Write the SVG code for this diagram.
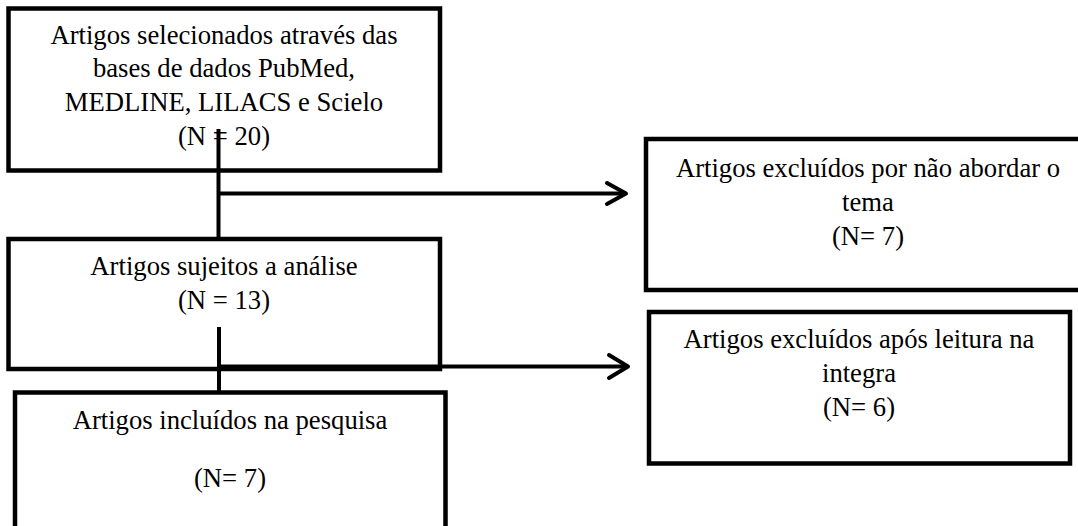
<svg xmlns="http://www.w3.org/2000/svg" width="1078" height="526" viewBox="0 0 1078 526">
<style>
.box{fill:#fff;stroke:#000;stroke-width:4.5}
.t{font-family:"Liberation Serif","Times New Roman",serif;font-size:26.67px;fill:#000;text-anchor:middle}
.ln{fill:none;stroke:#000;stroke-width:4}
.hd{fill:none;stroke:#000;stroke-width:4;stroke-linecap:round;stroke-linejoin:round}
</style>
<rect x="0" y="0" width="1078" height="526" fill="#fff"/>
<g id="n1">
<rect class="box" x="8.5" y="8.5" width="431.5" height="162"/>
<text class="t" x="224" y="43.5">Artigos selecionados através das</text>
<text class="t" x="224" y="77.3">bases de dados PubMed,</text>
<text class="t" x="224" y="111.2">MEDLINE, LILACS e Scielo</text>
<text class="t" x="224" y="145">(N = 20)</text>
</g>
<g id="n2">
<rect class="box" x="8.5" y="239" width="431.5" height="130"/>
<text class="t" x="224" y="275">Artigos sujeitos a análise</text>
<text class="t" x="224" y="309">(N = 13)</text>
</g>
<g id="n3">
<rect class="box" x="15" y="392.5" width="430.5" height="160"/>
<text class="t" x="230" y="429">Artigos incluídos na pesquisa</text>
<text class="t" x="230" y="487">(N= 7)</text>
</g>
<g id="n4">
<rect class="box" x="646" y="139" width="444" height="151"/>
<text class="t" x="868" y="177">Artigos excluídos por não abordar o</text>
<text class="t" x="868" y="211">tema</text>
<text class="t" x="868" y="245">(N= 7)</text>
</g>
<g id="n5">
<rect class="box" x="649" y="312" width="421" height="151.5"/>
<text class="t" x="859" y="348">Artigos excluídos após leitura na</text>
<text class="t" x="859" y="382">integra</text>
<text class="t" x="859" y="416">(N= 6)</text>
</g>
<g id="connectors">
<line class="ln" x1="218.5" y1="129" x2="218.5" y2="239"/>
<line class="ln" x1="218.5" y1="193.5" x2="625" y2="193.5" stroke-width="3.5"/>
<polyline class="hd" points="607,183 626,193.5 607,204"/>
<line class="ln" x1="219" y1="327" x2="219" y2="392.5"/>
<line class="ln" x1="219" y1="366.5" x2="627" y2="366.5" stroke-width="3.5"/>
<polyline class="hd" points="609,355 628,366.5 609,378"/>
</g>
</svg>
